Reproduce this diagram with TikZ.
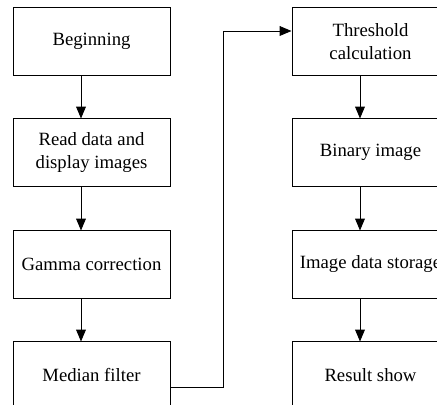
\documentclass[tikz,border=0pt]{standalone}
\usepackage{fontspec}
\setmainfont{Liberation Serif}
\usetikzlibrary{arrows.meta}

\tikzset{
  procbox/.style={draw, line width=0.65pt, minimum width=111.7pt, minimum height=47.7pt,
    inner sep=0pt, align=center, font=\fontsize{13.3}{16.4}\selectfont},
  flow/.style={line width=0.65pt, -{Triangle[length=8.5pt,width=7pt]}},
}

\begin{document}
\begin{tikzpicture}[x=0.025cm, y=-0.025cm]
\useasboundingbox (0,0) rectangle (437,405);
\clip (0,0) rectangle (437,405);

\pgfmathsetmacro{\lx}{91.5}
\pgfmathsetmacro{\rx}{370.5}
\pgfmathsetmacro{\off}{10.5}

% left column
\node[procbox] (begin) at (\lx,41.5) {Beginning};
\node[procbox] (read) at (\lx,152.5) {Read data and\\display images};
\node[procbox] (gamma) at (\lx,264.5) {Gamma correction};
\node[procbox] (filt) at (\lx,375.5) {Median filter};

% right column
\node[procbox] (thresh) at (\rx,41.5) {Threshold\\calculation};
\node[procbox] (binary) at (\rx,152.5) {Binary image};
\node[procbox] (store) at (\rx,264.5) {Image data storage};
\node[procbox] (result) at (\rx,375.5) {Result show};

\draw[flow] ([xshift=-\off*0.025cm]begin.south) -- ([xshift=-\off*0.025cm]read.north);
\draw[flow] ([xshift=-\off*0.025cm]read.south) -- ([xshift=-\off*0.025cm]gamma.north);
\draw[flow] ([xshift=-\off*0.025cm]gamma.south) -- ([xshift=-\off*0.025cm]filt.north);

\draw[flow] ([xshift=-\off*0.025cm]thresh.south) -- ([xshift=-\off*0.025cm]binary.north);
\draw[flow] ([xshift=-\off*0.025cm]binary.south) -- ([xshift=-\off*0.025cm]store.north);
\draw[flow] ([xshift=-\off*0.025cm]store.south) -- ([xshift=-\off*0.025cm]result.north);

% jump to second column
\coordinate (turn) at (223,31);
\draw[flow] (filt.east |- 0,387) -- (turn |- 0,387) -- (turn) -- (thresh.west |- turn);
\end{tikzpicture}
\end{document}
